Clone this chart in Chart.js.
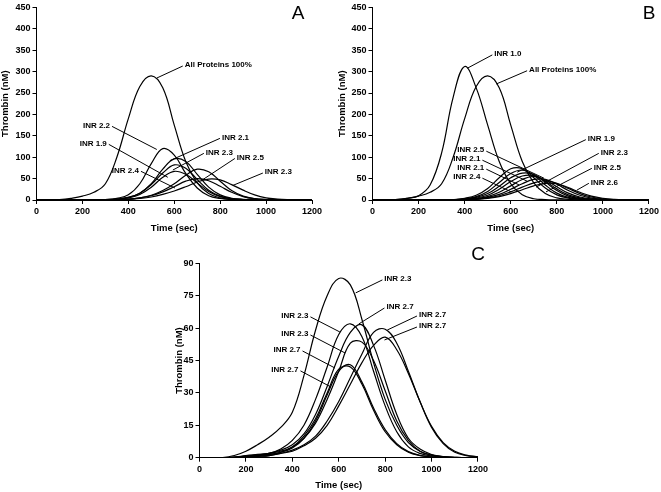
<!DOCTYPE html>
<html>
<head>
<meta charset="utf-8">
<script src="https://cdn.jsdelivr.net/npm/chart.js@4.4.1/dist/chart.umd.min.js"></script>
<style>
  body { margin: 0; background: #fff; }
  canvas { position: absolute; }
</style>
</head>
<body>
<canvas id="chartA" width="330" height="234" style="left:0;top:0"></canvas>
<canvas id="chartB" width="331" height="234" style="left:330px;top:0"></canvas>
<canvas id="chartC" width="340" height="252" style="left:150px;top:240px"></canvas>
<script>
// time grid (sec)
let times = [0, 50, 100, 150, 200, 250, 300, 350, 400, 450, 500, 550, 600, 650, 700, 750, 800, 850, 900, 950, 1000, 1050, 1100, 1150, 1200];

// thrombin (nM)
let allProteins = [0, 0, 1, 4, 9, 18, 38, 100, 190, 265, 290, 262, 175, 90, 40, 15, 5, 1.5, 0.5, 0.2, 0, 0, 0, 0, 0];

// panel A
let a22 = [0, 0, 0, 0, 0, 0.3, 1, 4, 12, 38, 85, 120, 105, 62, 28, 10, 3.5, 1, 0.3, 0, 0, 0, 0, 0, 0];
let a21 = [0, 0, 0, 0, 0, 0, 0.5, 2, 6, 16, 38, 72, 96, 90, 60, 30, 12, 4, 1.5, 0.5, 0, 0, 0, 0, 0];
let a23a = [0, 0, 0, 0, 0, 0, 0.5, 2, 6, 16, 36, 63, 82, 74, 48, 23, 9, 3, 1, 0.3, 0, 0, 0, 0, 0];
let a19 = [0, 0, 0, 0, 0, 0, 0.3, 1.5, 5, 13, 30, 53, 67, 60, 40, 20, 8, 3, 1, 0.3, 0, 0, 0, 0, 0];
let a24 = [0, 0, 0, 0, 0, 0, 0.2, 0.8, 2, 5, 10, 19, 31, 44, 50, 45, 32, 18, 8, 3, 1, 0.3, 0, 0, 0];
let a25 = [0, 0, 0, 0, 0, 0, 0.2, 0.8, 2, 5, 11, 22, 38, 58, 72, 66, 44, 22, 9, 3, 1, 0.3, 0, 0, 0];
let a23b = [0, 0, 0, 0, 0, 0, 0.2, 0.6, 1.5, 3.5, 7, 13, 21, 31, 42, 49, 47, 36, 23, 12, 5, 2, 0.7, 0.2, 0];

// panel B
let b10 = [0, 0, 1, 4, 10, 35, 110, 240, 312, 262, 175, 90, 38, 12, 3, 1, 0.3, 0, 0, 0, 0, 0, 0, 0, 0];
let b25a = [0, 0, 0, 0, 0, 0, 0.3, 1, 4, 11, 27, 52, 73, 73, 52, 28, 12, 4.5, 1.5, 0.5, 0, 0, 0, 0, 0];
let b21a = [0, 0, 0, 0, 0, 0, 0.2, 0.5, 3, 8, 20, 41, 62, 70, 58, 35, 16, 6, 2, 0.6, 0, 0, 0, 0, 0];
let b21b = [0, 0, 0, 0, 0, 0, 0.1, 0.5, 2, 6, 15, 32, 52, 63, 60, 42, 22, 9, 3.5, 1, 0.3, 0, 0, 0, 0];
let b24 = [0, 0, 0, 0, 0, 0, 0.1, 0.4, 1.5, 4.5, 11, 25, 43, 56, 57, 44, 26, 12, 5, 1.8, 0.6, 0.2, 0, 0, 0];
let b19 = [0, 0, 0, 0, 0, 0, 0, 0.3, 1, 3, 8, 18, 33, 48, 55, 47, 31, 16, 7, 2.5, 0.8, 0.3, 0, 0, 0];
let b23 = [0, 0, 0, 0, 0, 0, 0, 0.2, 0.8, 2.5, 6, 13, 25, 38, 48, 48, 37, 22, 11, 4.5, 1.6, 0.5, 0.2, 0, 0];
let b25b = [0, 0, 0, 0, 0, 0, 0, 0.2, 0.6, 2, 5, 10, 19, 30, 40, 45, 39, 27, 15, 7, 2.8, 1, 0.3, 0, 0];
let b26 = [0, 0, 0, 0, 0, 0, 0, 0.1, 0.5, 1.5, 4, 8, 15, 24, 33, 39, 38, 29, 18, 9, 4, 1.5, 0.5, 0.2, 0];

// panel C
let c23a = [0, 0, 0, 1, 3, 6, 9.5, 14, 21, 38, 59, 75, 83, 80, 64, 44, 27, 15, 7, 3, 1.2, 0.5, 0.2, 0, 0];
let c23b = [0, 0, 0, 0.3, 1, 1.5, 2, 4, 8, 15, 27, 42, 57, 62, 56, 40, 24, 12, 5, 2, 0.8, 0.3, 0, 0, 0];
let c27a = [0, 0, 0, 0.2, 0.8, 1.3, 2, 3.5, 6, 11, 20, 33, 47, 58, 61.5, 52, 36, 20, 9, 4, 1.5, 0.5, 0.2, 0, 0];
let c23c = [0, 0, 0, 0.2, 0.7, 1.2, 2, 3, 5, 9, 16, 27, 40, 53, 53.5, 45, 31, 17, 8, 3, 1.2, 0.4, 0, 0, 0];
let c27b = [0, 0, 0, 0.2, 0.6, 1, 1.5, 2.5, 5, 10, 18, 30, 41, 42, 34, 22, 12, 6, 2.5, 1, 0.4, 0, 0, 0, 0];
let c27c = [0, 0, 0, 0.2, 0.6, 1, 1.5, 2.5, 4.5, 9, 17, 29, 40, 43, 35, 23, 13, 6.5, 2.8, 1.1, 0.4, 0, 0, 0, 0];
let c27d = [0, 0, 0, 0, 0.3, 0.6, 1, 2, 3.5, 6, 10, 17, 26, 37, 48, 58, 59.5, 53, 40, 26, 14, 6.5, 2.5, 1, 0.4];
let c27e = [0, 0, 0, 0, 0.3, 0.6, 1, 2, 3, 5.5, 9, 15, 24, 34, 44, 52, 55.8, 50, 39, 26, 14.5, 7, 3, 1.2, 0.4];

// callouts: text, line start (sec, nM), line end (sec, nM)
let notesA = [
  ['All Proteins 100%', 637, 313, 524, 285],
  ['INR 2.2', 329, 172, 524, 118],
  ['INR 1.9', 315, 130, 572, 53],
  ['INR 2.4', 455, 67, 603, 28],
  ['INR 2.1', 799, 144, 581, 92],
  ['INR 2.3', 729, 109, 594, 70],
  ['INR 2.5', 864, 97, 720, 46],
  ['INR 2.3', 986, 63, 855, 34]
];
let notesB = [
  ['INR 1.0', 520, 339, 412, 308],
  ['All Proteins 100%', 671, 302, 537, 271],
  ['INR 2.5', 494, 114, 744, 51],
  ['INR 2.1', 477, 93, 671, 44],
  ['INR 2.1', 494, 72, 637, 35],
  ['INR 2.4', 477, 51, 602, 19],
  ['INR 1.9', 926, 141, 628, 65],
  ['INR 2.3', 982, 109, 710, 30],
  ['INR 2.5', 952, 74, 753, 19],
  ['INR 2.6', 939, 39, 887, 23]
];
let notesC = [
  ['INR 2.3', 788, 82.3, 673, 76.3],
  ['INR 2.7', 797, 69.3, 686, 61.9],
  ['INR 2.7', 937, 65.6, 809, 59.1],
  ['INR 2.7', 937, 60.5, 797, 54.5],
  ['INR 2.3', 478, 65.2, 605, 58.2],
  ['INR 2.3', 478, 56.8, 627, 48.5],
  ['INR 2.7', 444, 49.4, 584, 41.5],
  ['INR 2.7', 435, 40.2, 567, 32.7]
];

const FONT = '"Liberation Sans", Arial, sans-serif';

function toPoints(vals) {
  return times.map((t, i) => ({ x: t, y: vals[i] }));
}

function calloutPlugin(notes, letter, lx, ly) {
  return {
    id: 'callouts',
    afterDatasetsDraw(chart) {
      let ctx = chart.ctx;
      let xs = chart.scales.x, ys = chart.scales.y;
      ctx.save();
      ctx.strokeStyle = '#000';
      ctx.fillStyle = '#000';
      ctx.lineWidth = 1;
      ctx.font = 'bold 8px ' + FONT;
      ctx.textBaseline = 'middle';
      notes.forEach(n => {
        let x1 = xs.getPixelForValue(n[1]), y1 = ys.getPixelForValue(n[2]);
        let x2 = xs.getPixelForValue(n[3]), y2 = ys.getPixelForValue(n[4]);
        ctx.beginPath();
        ctx.moveTo(x1, y1);
        ctx.lineTo(x2, y2);
        ctx.stroke();
        let toLeft = x2 < x1;
        ctx.textAlign = toLeft ? 'left' : 'right';
        ctx.fillText(n[0], x1 + (toLeft ? 2 : -2), y1 - 1);
      });
      ctx.font = '19px ' + FONT;
      ctx.textAlign = 'center';
      ctx.fillText(letter, lx, ly);
      ctx.restore();
    }
  };
}

function makePanel(id, series, yMax, yStep, box, notes, letter) {
  let ctx = document.getElementById(id).getContext('2d');
  return new Chart(ctx, {
    type: 'line',
    data: {
      datasets: series.map(s => ({
        data: toPoints(s),
        borderColor: '#000',
        borderWidth: 1.2,
        pointRadius: 0,
        tension: 0.4,
        fill: false
      }))
    },
    options: {
      responsive: false,
      animation: false,
      devicePixelRatio: 1,
      layout: { padding: { left: 0, right: box.right, top: box.top, bottom: 0 } },
      plugins: { legend: { display: false }, tooltip: { enabled: false } },
      scales: {
        x: {
          type: 'linear',
          min: 0,
          max: 1200,
          ticks: { stepSize: 200, format: { useGrouping: false }, color: '#000', font: { family: FONT, size: 9, weight: 'bold' }, padding: 2, maxRotation: 0 },
          grid: { drawOnChartArea: false, drawTicks: true, tickLength: 4, color: '#000' },
          border: { color: '#000', width: 1 },
          title: { display: true, text: 'Time (sec)', color: '#000', font: { family: FONT, size: 9.5, weight: 'bold' }, padding: { top: 0, bottom: box.xTitlePad } },
          afterFit: s => { s.height = box.xH; }
        },
        y: {
          min: 0,
          max: yMax,
          ticks: { stepSize: yStep, color: '#000', font: { family: FONT, size: 9, weight: 'bold' }, padding: 2 },
          grid: { drawOnChartArea: false, drawTicks: true, tickLength: 4, color: '#000' },
          border: { color: '#000', width: 1 },
          title: { display: true, text: 'Thrombin (nM)', color: '#000', font: { family: FONT, size: 9.5, weight: 'bold' }, padding: { top: box.yTitlePad, bottom: 0 } },
          afterFit: s => { s.width = box.yW; }
        }
      }
    },
    plugins: [calloutPlugin(notes, letter[0], letter[1], letter[2])]
  });
}

makePanel('chartA', [allProteins, a22, a21, a23a, a19, a24, a25, a23b], 450, 50,
  { right: 18, top: 6, xH: 34, yW: 36.5, xTitlePad: 0, yTitlePad: 0 }, notesA, ['A', 298, 14]);
makePanel('chartB', [b10, allProteins, b25a, b21a, b21b, b24, b19, b23, b25b, b26], 450, 50,
  { right: 10.5, top: 6, xH: 34, yW: 42.5, xTitlePad: 0, yTitlePad: 7 }, notesB, ['B', 319, 14]);
makePanel('chartC', [c23a, c23b, c27a, c23c, c27b, c27c, c27d, c27e], 90, 15,
  { right: 8, top: 23.3, xH: 34.3, yW: 49.5, xTitlePad: 1.3, yTitlePad: 24 }, notesC, ['C', 328, 15]);
</script>
</body>
</html>
